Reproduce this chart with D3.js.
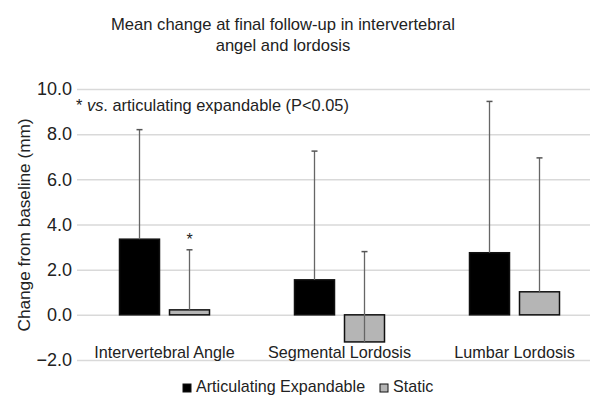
<!DOCTYPE html>
<html>
<head>
<meta charset="utf-8">
<script src="https://cdn.jsdelivr.net/npm/d3@7"></script>
<style>
  body { margin: 0; background: #fff; }
  text { font-family: "Liberation Sans", Arial, sans-serif; fill: #222; }
</style>
</head>
<body>
<div id="chart"></div>
<script>
// values
var categories = ['Intervertebral Angle', 'Segmental Lordosis', 'Lumbar Lordosis'];
var seriesNames = ['Articulating Expandable', 'Static'];
var articulating = [3.35, 1.55, 2.75];
var articulatingErr = [8.2, 7.25, 9.45];   // top of error whisker
var staticVals = [0.22, -1.2, 1.02];
var staticErr = [2.88, 2.8, 6.95];
var stars = [true, false, false];          // star over the static bar
var yTicks = [-2, 0, 2, 4, 6, 8, 10];

var width = 590, height = 395;
var margin = { top: 89, right: -12, bottom: 35, left: 77 };

var svg = d3.select('#chart').append('svg')
  .attr('width', width)
  .attr('height', height);

var x = d3.scaleBand()
  .domain(categories)
  .range([margin.left, width - margin.right]);

var x1 = d3.scaleBand()
  .domain(seriesNames)
  .range([0, 90])
  .paddingInner(0.2);

var y = d3.scaleLinear()
  .domain([-2, 10])
  .range([height - margin.bottom, margin.top]);

// gridlines + tick labels
var yAxis = d3.axisLeft(y)
  .tickValues(yTicks)
  .tickSize(-(width - margin.left))
  .tickFormat(function (d) { return d < 0 ? '\u2212' + d3.format('.1f')(-d) : d3.format('.1f')(d); });

var gy = svg.append('g')
  .attr('transform', 'translate(' + margin.left + ',0)')
  .call(yAxis);
gy.select('.domain').remove();
gy.selectAll('.tick line').attr('stroke', '#d9d9d9').attr('stroke-width', 1.5);
gy.selectAll('.tick text')
  .attr('x', -5)
  .style('font-size', '18px')
  .style('font-family', '"Liberation Sans", Arial, sans-serif')
  .attr('fill', '#222');

var data = categories.map(function (c, i) {
  return [
    { cat: c, key: seriesNames[0], v: articulating[i], err: articulatingErr[i] },
    { cat: c, key: seriesNames[1], v: staticVals[i], err: staticErr[i] }
  ];
});

var groups = svg.selectAll('g.group')
  .data(data)
  .enter().append('g')
  .attr('class', 'group')
  .attr('transform', function (d) {
    return 'translate(' + (x(d[0].cat) + x.bandwidth() / 2 - 45) + ',0)';
  });

groups.selectAll('rect')
  .data(function (d) { return d; })
  .enter().append('rect')
  .attr('x', function (d) { return x1(d.key); })
  .attr('width', x1.bandwidth())
  .attr('y', function (d) { return y(Math.max(0, d.v)); })
  .attr('height', function (d) { return Math.abs(y(d.v) - y(0)); })
  .attr('fill', function (d) { return d.key === seriesNames[0] ? '#000' : '#b5b5b5'; })
  .attr('stroke', '#111')
  .attr('stroke-width', 1.5);

// error whiskers
groups.selectAll('line.err')
  .data(function (d) { return d; })
  .enter().append('line')
  .attr('class', 'err')
  .attr('x1', function (d) { return x1(d.key) + x1.bandwidth() / 2; })
  .attr('x2', function (d) { return x1(d.key) + x1.bandwidth() / 2; })
  .attr('y1', function (d) { return y(d.v); })
  .attr('y2', function (d) { return y(d.err); })
  .attr('stroke', '#666')
  .attr('stroke-width', 1.3);

groups.selectAll('line.cap')
  .data(function (d) { return d; })
  .enter().append('line')
  .attr('class', 'cap')
  .attr('x1', function (d) { return x1(d.key) + x1.bandwidth() / 2 - 3; })
  .attr('x2', function (d) { return x1(d.key) + x1.bandwidth() / 2 + 3; })
  .attr('y1', function (d) { return y(d.err); })
  .attr('y2', function (d) { return y(d.err); })
  .attr('stroke', '#555')
  .attr('stroke-width', 1.5);

// significance star
groups.filter(function (d, i) { return stars[i]; })
  .append('text')
  .attr('x', x1(seriesNames[1]) + x1.bandwidth() / 2)
  .attr('y', function (d) { return y(d[1].err) - 5; })
  .attr('text-anchor', 'middle')
  .style('font-size', '16px')
  .text('*');

// category labels
svg.selectAll('text.cat')
  .data(categories)
  .enter().append('text')
  .attr('class', 'cat')
  .attr('x', function (d) { return x(d) + x.bandwidth() / 2; })
  .attr('y', 358)
  .attr('text-anchor', 'middle')
  .style('font-size', '16.2px')
  .text(function (d) { return d; });

// title
var title = svg.append('text')
  .attr('text-anchor', 'middle')
  .style('font-size', '16.6px');
title.append('tspan').attr('x', 283).attr('y', 30).text('Mean change at final follow-up in intervertebral');
title.append('tspan').attr('x', 283).attr('y', 51).text('angel and lordosis');

// note
var note = svg.append('text')
  .attr('x', 76)
  .attr('y', 111)
  .style('font-size', '16.4px');
note.append('tspan').text('* ');
note.append('tspan').style('font-style', 'italic').text('vs');
note.append('tspan').text('. articulating expandable (P<0.05)');

// y label
svg.append('text')
  .attr('transform', 'translate(30,225) rotate(-90)')
  .attr('text-anchor', 'middle')
  .style('font-size', '17.2px')
  .text('Change from baseline (mm)');

// legend
var legend = svg.append('g').attr('transform', 'translate(0,392)');
var lx = [183, 380];
seriesNames.forEach(function (s, i) {
  legend.append('rect')
    .attr('x', lx[i])
    .attr('y', -8)
    .attr('width', 8)
    .attr('height', 8)
    .attr('fill', i === 0 ? '#000' : '#b5b5b5')
    .attr('stroke', '#111')
    .attr('stroke-width', 1);
  legend.append('text')
    .attr('x', lx[i] + 13)
    .attr('y', 0)
    .style('font-size', '16.1px')
    .text(s);
});
</script>
</body>
</html>
